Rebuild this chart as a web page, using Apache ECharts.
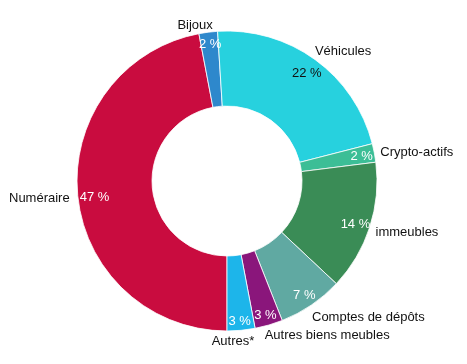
<!DOCTYPE html>
<html><head><meta charset="utf-8">
<script src="https://cdn.jsdelivr.net/npm/echarts@6/dist/echarts.min.js"></script>
<style>html,body{margin:0;padding:0;background:#fff}#c{width:467px;height:364px}</style>
</head><body><div id="c"></div>
<script>
const categories = ["Numéraire","Bijoux","Véhicules","Crypto-actifs","immeubles","Comptes de dépôts","Autres biens meubles","Autres*"];
const values = [47, 2, 22, 2, 14, 7, 3, 3];
const colors = ["#C90C3F","#2E88CC","#27D1DE","#3CBE96","#3A8C56","#60A9A2","#8A167B","#1DB5EA"];
const pctColors = ["#fff","#fff","#111","#fff","#fff","#fff","#fff","#fff"];
// small nudges of the labels (pixels)
const nameNudge = [[0,3],[10,-4],[-7,-6],[-2,0],[-2,4],[-6,10],[-10,7],[0,0]];
const pctNudge = [[1,4],[0,-4],[1,1],[3,1],[1,2],[2,4],[1,6],[0,7]];

const font = "Liberation Sans, Arial, sans-serif";
const chart = echarts.init(document.getElementById('c'), null, {renderer:'canvas'});
const center = [227, 181];
chart.setOption({
  animation:false,
  series:[
    {
      type:'pie', center:center, radius:[75,150], startAngle:-90, clockwise:true,
      avoidLabelOverlap:false, silent:true,
      itemStyle:{borderColor:'#fff', borderWidth:0.8},
      label:{show:true, position:'outside', color:'#111', fontFamily:font, fontSize:13,
        formatter:p=>p.name},
      labelLine:{show:false, length:3, length2:0},
      labelLayout:function(p){
        if (p.dataIndex===7) {
          return {x: center[0]+6, y: center[1]+160, align:'center', hideOverlap:false};
        }
        const n = nameNudge[p.dataIndex];
        return {dx:n[0], dy:n[1], hideOverlap:false};
      },
      data: categories.map((n,i)=>({name:n, value:values[i], itemStyle:{color:colors[i]}}))
    },
    {
      type:'pie', center:center, radius:[112,150], startAngle:-90, clockwise:true,
      avoidLabelOverlap:false, silent:true, z:5,
      itemStyle:{color:'rgba(0,0,0,0)'},
      label:{show:true, position:'inside', fontFamily:font, fontSize:13,
        formatter:p=>p.value+' %'},
      labelLine:{show:false},
      labelLayout:function(p){
        const n = pctNudge[p.dataIndex];
        return {dx:n[0], dy:n[1], hideOverlap:false};
      },
      data: categories.map((n,i)=>({name:n, value:values[i], label:{color:pctColors[i]}}))
    }
  ]
});
</script></body></html>
